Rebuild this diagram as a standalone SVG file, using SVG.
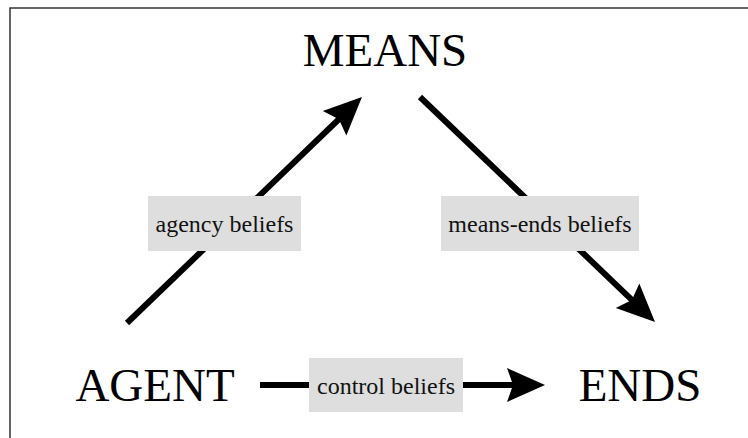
<svg xmlns="http://www.w3.org/2000/svg" width="748" height="438" viewBox="0 0 748 438">
  <style>
    .node { font-size: 47px; fill: #000; text-anchor: middle; }
    .edge { stroke: #000; stroke-width: 6; fill: none; }
    .lbox { fill: #dedede; }
    .ltxt { font-size: 24px; fill: #111; text-anchor: middle; }
  </style>
  <defs>
    <marker id="head" markerUnits="userSpaceOnUse" viewBox="0 -18 40 36" refX="20" refY="0" markerWidth="40" markerHeight="36" orient="auto">
      <path d="M38,0 L0,-17 L6,0 L0,17 Z" fill="#000"/>
    </marker>
  </defs>

  <rect width="748" height="438" fill="#fff"/>
  <!-- frame: only top and left edges fall inside the canvas -->
  <path d="M10,438 V8 H748" fill="none" stroke="#333" stroke-width="1.5"/>

  <g font-family="Liberation Serif, Times New Roman, serif">
    <g id="connectors">
      <g id="agent-means">
        <line class="edge" x1="127" y1="323" x2="349" y2="109.5" marker-end="url(#head)"/>
        <rect class="lbox" x="148" y="196" width="153" height="55"/>
        <text class="ltxt" x="224.5" y="232">agency beliefs</text>
      </g>
      <g id="means-ends">
        <line class="edge" x1="420" y1="97" x2="642" y2="309.6" marker-end="url(#head)"/>
        <rect class="lbox" x="441" y="196" width="198" height="55"/>
        <text class="ltxt" x="540" y="232">means-ends beliefs</text>
      </g>
      <g id="agent-ends">
        <line class="edge" x1="260" y1="385" x2="527" y2="385" marker-end="url(#head)"/>
        <rect class="lbox" x="309" y="358" width="154" height="54"/>
        <text class="ltxt" x="386" y="394">control beliefs</text>
      </g>
    </g>

    <g id="means"><text class="node" x="385" y="66">MEANS</text></g>
    <g id="agent"><text class="node" x="155" y="401">AGENT</text></g>
    <g id="ends"><text class="node" x="640" y="401">ENDS</text></g>
  </g>
</svg>
